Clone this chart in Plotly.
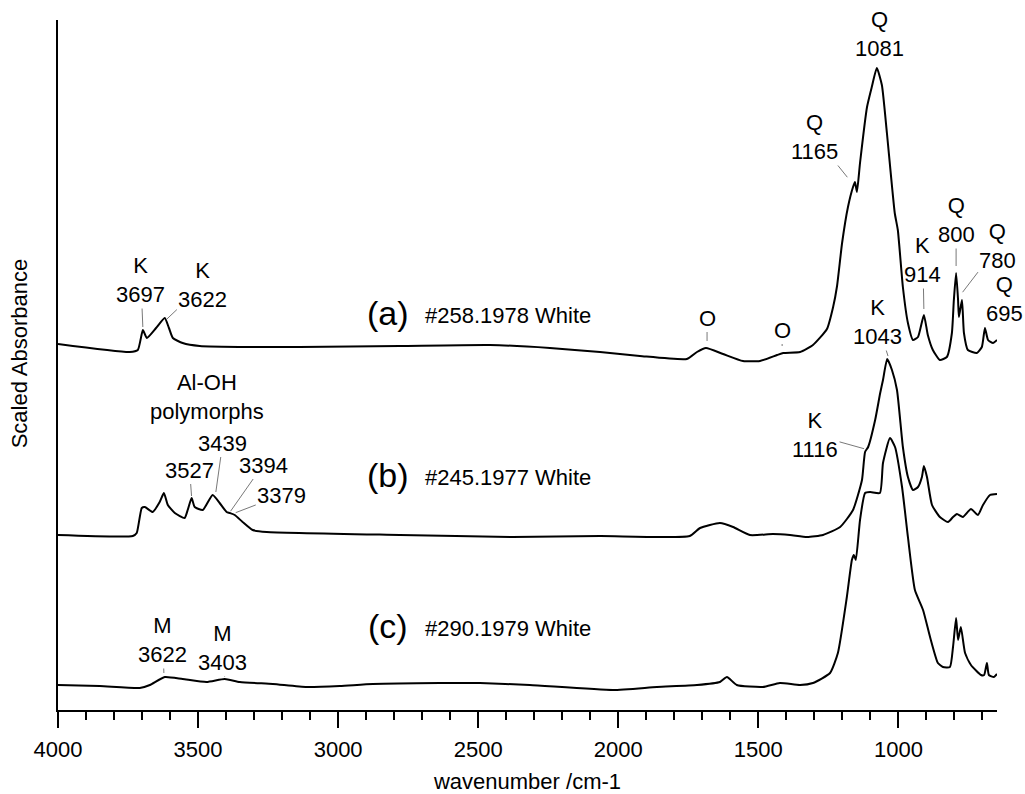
import plotly.graph_objects as go

# ---------------- data ----------------
# (a) #258.1978 White
wn_a = [4000, 3744, 3715, 3697, 3683, 3650, 3619, 3604, 3590, 3555,
        3494, 3315, 3137, 2780, 2458, 2244, 2065, 1923, 1755, 1719,
        1687, 1626, 1555, 1494, 1433, 1411, 1351, 1305, 1255, 1233,
        1219, 1201, 1180, 1162, 1155, 1148, 1137, 1112, 1095, 1077,
        1059, 1041, 1013, 1002, 984, 966, 948, 930, 909, 895,
        877, 852, 827, 809, 802, 794, 787, 784, 773, 766,
        752, 720, 702, 691, 680, 662, 648]
abs_a = [0.18, 0.10, 0.12, 0.32, 0.24, 0.34, 0.44, 0.34, 0.24, 0.19,
         0.16, 0.15, 0.15, 0.16, 0.17, 0.14, 0.10, 0.06, 0.03, 0.10,
         0.14, 0.08, 0.01, 0.01, 0.07, 0.09, 0.10, 0.17, 0.33, 0.55,
         0.76, 1.19, 1.55, 1.75, 1.80, 1.70, 1.99, 2.55, 2.75, 2.94,
         2.77, 2.29, 1.49, 1.32, 0.75, 0.39, 0.22, 0.25, 0.47, 0.27,
         0.12, 0.02, 0.05, 0.29, 0.62, 0.89, 0.62, 0.45, 0.62, 0.29,
         0.12, 0.09, 0.15, 0.34, 0.22, 0.19, 0.22]

# (b) #245.1977 White
wn_b = [4000, 3733, 3719, 3701, 3690, 3662, 3637, 3622, 3608, 3583,
        3548, 3537, 3523, 3512, 3483, 3448, 3423, 3398, 3387, 3369,
        3341, 3305, 3255, 2780, 2377, 2065, 1745, 1708, 1637, 1590,
        1530, 1448, 1387, 1326, 1269, 1208, 1162, 1130, 1119, 1108,
        1083, 1065, 1055, 1040, 1023, 1005, 984, 966, 948, 930,
        916, 909, 898, 880, 852, 823, 805, 791, 770, 741,
        716, 698, 673, 648]
abs_b = [0.03, 0.02, 0.05, 0.30, 0.31, 0.26, 0.36, 0.45, 0.33, 0.25,
         0.20, 0.28, 0.40, 0.31, 0.28, 0.43, 0.35, 0.26, 0.25, 0.23,
         0.16, 0.08, 0.06, 0.03, 0.01, 0.02, 0.02, 0.10, 0.15, 0.11,
         0.03, 0.04, 0.03, 0.01, 0.03, 0.11, 0.28, 0.58, 0.86, 0.91,
         1.18, 1.45, 1.58, 1.79, 1.68, 1.48, 0.91, 0.61, 0.48, 0.51,
         0.61, 0.72, 0.61, 0.33, 0.21, 0.16, 0.21, 0.24, 0.21, 0.29,
         0.23, 0.33, 0.43, 0.44]

# (c) #290.1979 White
wn_c = [4000, 3851, 3708, 3672, 3619, 3555, 3470, 3405, 3351, 3233,
        3112, 2994, 2876, 2637, 2494, 2316, 2019, 1862, 1719, 1637,
        1612, 1577, 1484, 1423, 1351, 1305, 1244, 1216, 1184, 1166,
        1159, 1152, 1137, 1119, 1101, 1066, 1055, 1030, 1012, 987,
        966, 941, 912, 887, 859, 841, 816, 805, 794, 787,
        777, 762, 741, 705, 694, 684, 677, 659, 648]
abs_c = [0.05, 0.04, 0.02, 0.05, 0.13, 0.11, 0.08, 0.11, 0.08, 0.06,
         0.03, 0.04, 0.06, 0.07, 0.07, 0.05, 0.00, 0.03, 0.05, 0.08,
         0.13, 0.05, 0.03, 0.07, 0.05, 0.07, 0.17, 0.37, 0.93, 1.30,
         1.35, 1.30, 1.70, 1.97, 1.98, 1.97, 2.27, 2.52, 2.43, 2.03,
         1.53, 1.00, 0.80, 0.53, 0.27, 0.23, 0.23, 0.43, 0.72, 0.50,
         0.63, 0.37, 0.25, 0.15, 0.15, 0.27, 0.15, 0.13, 0.16]

series_names = ["(a)", "(b)", "(c)"]
sample_labels = ["#258.1978 White", "#245.1977 White", "#290.1979 White"]
x_tick_values = [4000, 3500, 3000, 2500, 2000, 1500, 1000]
x_tick_labels = ["4000", "3500", "3000", "2500", "2000", "1500", "1000"]

# vertical stacking offsets (scaled absorbance units)
offsets = [3.48, 1.72, 0.20]

FONT = "Liberation Sans, Arial, sans-serif"
FS = 22

fig = go.Figure()
for wn, ab, off, nm in zip([wn_a, wn_b, wn_c], [abs_a, abs_b, abs_c], offsets, series_names):
    fig.add_trace(go.Scatter(
        x=wn, y=[v + off for v in ab], mode="lines", name=nm,
        line=dict(color="black", width=2, shape="spline", smoothing=0.5),
        showlegend=False, hoverinfo="skip"))

# peak labels with leader lines: (text, wavenumber, y, ax, ay)
peak_labels = [
    ("K<br>3697", 3697, 3.82, -2, -48),
    ("K<br>3622", 3615, 3.90, 37, -35),
    ("3439", 3437, 2.17, 7, -50),
    ("3527", 3523, 2.13, -2, -27),
    ("3394", 3386, 1.98, 33, -47),
    ("3379", 3369, 1.97, 47, -18),
    ("O", 1683, 3.68, 0, -24),
    ("O", 1415, 3.63, 0, -17),
    ("Q<br>1165", 1180, 5.32, -33, -41),
    ("Q<br>1081", 1076, 6.47, 2, -29),
    ("K<br>914", 909, 4.00, -1, -50),
    ("Q<br>800", 794, 4.43, 0, -47),
    ("Q<br>780", 773, 4.17, 36, -47),
    ("K<br>1043", 1036, 3.53, -11, -35),
    ("K<br>1116", 1119, 2.61, -50, -14),
    ("M<br>3622", 3622, 0.36, -1, -34),
    ("M<br>3403", 3405, 0.32, -2, -30),
]
anns = []
for txt, xx, yy, ax, ay in peak_labels:
    anns.append(dict(text=txt, x=xx, y=yy, xref="x", yref="y", ax=ax, ay=ay,
                     showarrow=True, arrowhead=0, arrowwidth=0.8, arrowcolor="#555555",
                     standoff=1, font=dict(family=FONT, size=FS, color="black")))

anns.append(dict(text="Al-OH<br>polymorphs", x=3469, y=3.13, xref="x", yref="y",
                 xanchor="center", yanchor="middle",
                 showarrow=False, font=dict(family=FONT, size=FS, color="black")))
anns.append(dict(text="Q<br>695", x=1.0085, y=4.11, xref="paper", yref="y",
                 xanchor="center", yanchor="middle",
                 showarrow=False, font=dict(family=FONT, size=FS, color="black")))

label_y = [3.97, 2.35, 0.84]
for nm, lab, ly in zip(series_names, sample_labels, label_y):
    anns.append(dict(text=nm, x=2821, y=ly, xref="x", yref="y", showarrow=False,
                     xanchor="center", yanchor="middle",
                     font=dict(family=FONT, size=34, color="black")))
    anns.append(dict(text=lab, x=2698, y=ly - 0.02, xref="x", yref="y", showarrow=False,
                     xanchor="left", yanchor="middle",
                     font=dict(family=FONT, size=FS, color="black")))

anns.append(dict(text="Scaled Absorbance", x=-0.0415, y=0.517, xref="paper", yref="paper",
                 xanchor="center", yanchor="middle",
                 showarrow=False, textangle=-90,
                 font=dict(family=FONT, size=FS, color="black")))

fig.update_layout(
    width=1025, height=794,
    margin=dict(l=58, r=28, t=20, b=84),
    paper_bgcolor="white", plot_bgcolor="white",
    font=dict(family=FONT, size=FS, color="black"),
    annotations=anns,
    xaxis=dict(
        range=[4000, 648], showline=True, linecolor="black", linewidth=2,
        ticks="outside", ticklen=16, tickwidth=2, tickcolor="black",
        tickvals=x_tick_values, ticktext=x_tick_labels, ticklabelstandoff=3,
        tickfont=dict(family=FONT, size=FS, color="black"),
        showgrid=False, zeroline=False, automargin=False,
        minor=dict(dtick=100, tick0=0, ticks="outside", ticklen=8, tickwidth=2,
                   tickcolor="black", showgrid=False),
        title=dict(text="wavenumber /cm-1", standoff=14,
                   font=dict(family=FONT, size=FS, color="black")),
    ),
    yaxis=dict(
        range=[0, 6.9], showline=True, linecolor="black", linewidth=2,
        showticklabels=False, ticks="", showgrid=False, zeroline=False,
        automargin=False,
    ),
)

fig.write_html("out.html")
